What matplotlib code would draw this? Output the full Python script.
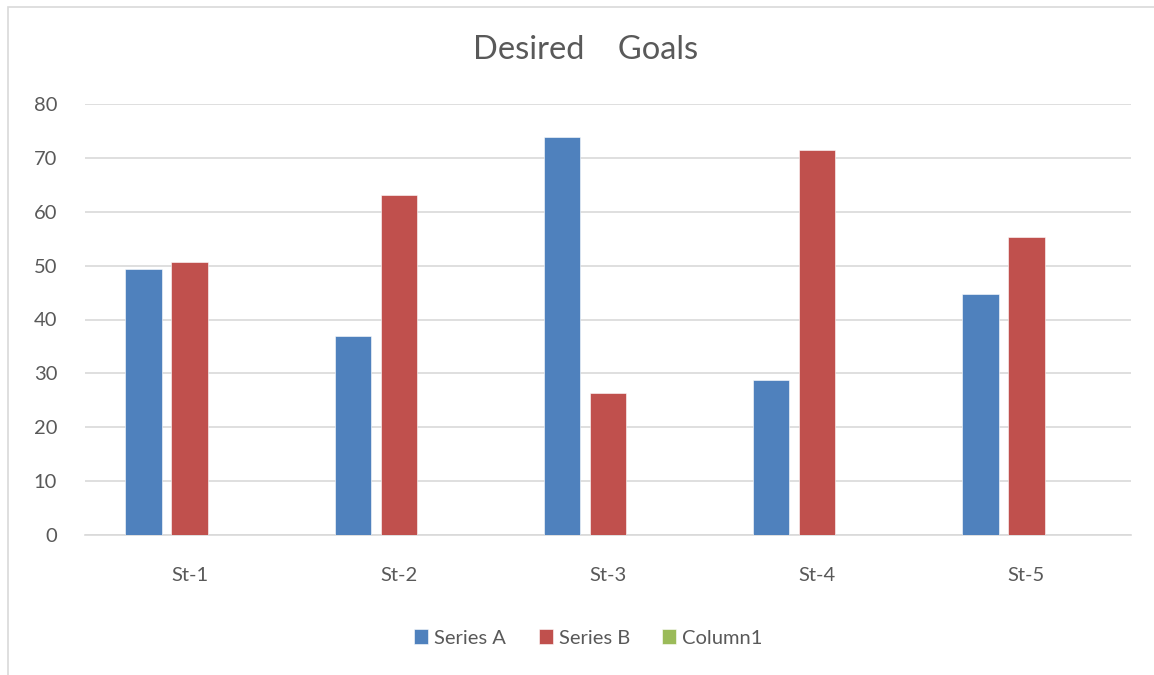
import matplotlib
matplotlib.use('Agg')
from matplotlib import pyplot as plt
from matplotlib.patches import Rectangle
import numpy as np

categories = ['St-1', 'St-2', 'St-3', 'St-4', 'St-5']
series_a = [49.4, 36.9, 73.9, 28.7, 44.7]
series_b = [50.7, 63.2, 26.3, 71.5, 55.3]
column1 = [0, 0, 0, 0, 0]
series_names = ['Series A', 'Series B', 'Column1']
colors = ['#4F81BD', '#C0504D', '#9BBB59']
y_ticks = [0, 10, 20, 30, 40, 50, 60, 70, 80]

plt.rcParams['font.family'] = ['Lato', 'DejaVu Sans']
text_color = '#595959'
grid_color = '#D9D9D9'

fig = plt.figure(figsize=(11.54, 6.75), dpi=100)
# chart border (cut off at right/bottom like the screenshot)
fig.patches.append(Rectangle((8 / 1154, -0.1), 1.2, (675 - 7) / 675 + 0.1,
                             transform=fig.transFigure, fill=False,
                             edgecolor='#D9D9D9', linewidth=1.2))

ax = fig.add_axes([85 / 1154, 140 / 675, 1046 / 1154, 431 / 675])
x = np.arange(len(categories))
w = 0.174
step = 0.22
for i, (vals, name, c) in enumerate(zip([series_a, series_b, column1], series_names, colors)):
    ax.bar(x + (i - 1) * step, vals, width=w, color=c, label=name,
           edgecolor='white', linewidth=0.4, zorder=3)

ax.set_xlim(-0.5, len(categories) - 0.5)
ax.set_ylim(0, 80)
ax.set_yticks(y_ticks)
ax.set_xticks(x)
ax.set_xticklabels(categories)
ax.tick_params(axis='both', length=0, colors=text_color, labelsize=14.5)
ax.tick_params(axis='x', pad=23)
ax.tick_params(axis='y', pad=20)
ax.grid(axis='y', color=grid_color, linewidth=1.2, zorder=0)
for s in ['top', 'right', 'left']:
    ax.spines[s].set_visible(False)
ax.spines['bottom'].set_color(grid_color)
ax.spines['bottom'].set_linewidth(1.2)

fig.text(0.507, 1 - 50 / 675, 'Desired    Goals', ha='center', va='center',
         fontsize=23.5, color=text_color)

fig.legend(loc='center', bbox_to_anchor=(0.51, 1 - 638 / 675), ncol=3,
           frameon=False, fontsize=14.5, labelcolor=text_color,
           handlelength=0.7, handleheight=0.7, handletextpad=0.3,
           columnspacing=1.6)

plt.savefig('out.png', dpi=100)
